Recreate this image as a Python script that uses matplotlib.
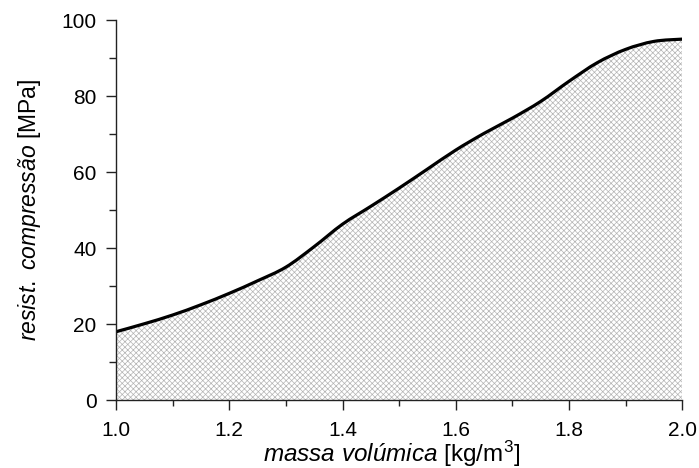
import matplotlib
matplotlib.use("Agg")
import matplotlib.pyplot as plt
import numpy as np
from matplotlib.ticker import MultipleLocator, FormatStrFormatter
from matplotlib.path import Path
from matplotlib.patches import PathPatch

density = [1.00, 1.05, 1.10, 1.15, 1.20, 1.25, 1.30, 1.35, 1.40, 1.45, 1.50,
           1.55, 1.60, 1.65, 1.70, 1.75, 1.80, 1.85, 1.90, 1.95, 2.00]
strength = [18.0, 20.1, 22.4, 25.1, 28.1, 31.4, 35.0, 40.4, 46.3, 51.0, 55.8,
            60.8, 65.8, 70.2, 74.2, 78.6, 83.9, 88.8, 92.3, 94.4, 95.0]

plt.rcParams['font.family'] = ['Liberation Sans', 'DejaVu Sans']
plt.rcParams['mathtext.fontset'] = 'custom'
plt.rcParams['mathtext.rm'] = 'Liberation Sans'
plt.rcParams['mathtext.it'] = 'Liberation Sans:italic'
plt.rcParams['hatch.color'] = '#b4b4b4'
plt.rcParams['hatch.linewidth'] = 0.5


def smooth_path(xs, ys):
    """Catmull-Rom through the read points, rendered as cubic Bezier segments."""
    xs = np.asarray(xs, float)
    ys = np.asarray(ys, float)
    n = len(xs)
    verts = [(xs[0], ys[0])]
    codes = [Path.MOVETO]
    for i in range(n - 1):
        p0 = np.array([xs[max(i - 1, 0)], ys[max(i - 1, 0)]])
        p1 = np.array([xs[i], ys[i]])
        p2 = np.array([xs[i + 1], ys[i + 1]])
        p3 = np.array([xs[min(i + 2, n - 1)], ys[min(i + 2, n - 1)]])
        c1 = p1 + (p2 - p0) / 6.0
        c2 = p2 - (p3 - p1) / 6.0
        verts += [tuple(c1), tuple(c2), tuple(p2)]
        codes += [Path.CURVE4] * 3
    return verts, codes


fig = plt.figure(figsize=(6.99, 4.68), dpi=100)
ax = fig.add_axes([0.166, 0.145, 0.81, 0.812])

verts, codes = smooth_path(density, strength)
fill_verts = verts + [(density[-1], 0), (density[0], 0), verts[0]]
fill_codes = codes + [Path.LINETO, Path.LINETO, Path.CLOSEPOLY]
ax.add_patch(PathPatch(Path(fill_verts, fill_codes), facecolor='white',
                       edgecolor='#b4b4b4', hatch='xxxxxx', linewidth=0))
ax.add_patch(PathPatch(Path(verts, codes), facecolor='none', edgecolor='black',
                       lw=2.3, capstyle='round'))

ax.set_xlim(1.0, 2.0)
ax.set_ylim(0, 100)
ax.xaxis.set_major_locator(MultipleLocator(0.2))
ax.xaxis.set_minor_locator(MultipleLocator(0.1))
ax.yaxis.set_major_locator(MultipleLocator(20))
ax.yaxis.set_minor_locator(MultipleLocator(10))
ax.xaxis.set_major_formatter(FormatStrFormatter('%.1f'))

for s in ['top', 'right']:
    ax.spines[s].set_visible(False)
for s in ['left', 'bottom']:
    ax.spines[s].set_color('#222222')
    ax.spines[s].set_linewidth(1.0)

ax.tick_params(axis='y', which='major', direction='out', length=7.2, width=1,
               labelsize=15, color='#222222', pad=6.8)
ax.tick_params(axis='y', which='minor', direction='out', length=5, width=1, color='#222222')
ax.tick_params(axis='x', which='major', direction='out', length=7.2, width=1,
               labelsize=15, color='#222222', pad=8.0)
ax.tick_params(axis='x', which='minor', direction='out', length=4.5, width=1, color='#222222')

ax.set_xlabel(r'$\it{massa\ volúmica}$ [kg/m$^3$]', fontsize=17.5)
ax.xaxis.label.set_va('baseline')
ax.xaxis.set_label_coords(0.487, -0.162)
ax.set_ylabel(r'$\it{resist.\ compressão}$ [MPa]', fontsize=16.5, labelpad=13)

fig.savefig('out.png', dpi=100)
